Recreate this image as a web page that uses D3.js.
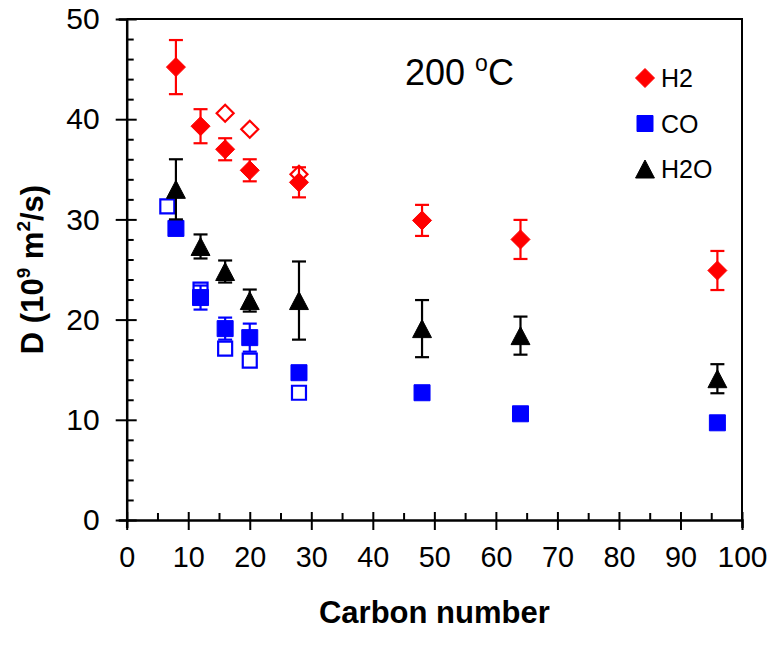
<!DOCTYPE html>
<html>
<head>
<meta charset="utf-8">
<script src="https://cdn.jsdelivr.net/npm/d3@7"></script>
<style>
  html, body { margin: 0; padding: 0; background: #fff; }
  svg { display: block; }
  text { font-family: "Liberation Sans", Arial, sans-serif; }
</style>
</head>
<body>
<svg id="chart" width="770" height="653"></svg>
<script>
// Diffusion coefficient D (10^-9 m^2/s) versus alkane carbon number at 200 °C

// H2, filled diamonds: carbon number, value, error
const h2Carbon = [8, 12, 16, 20, 28, 48, 64, 96];
const h2Value  = [45.2, 39.3, 37.0, 34.9, 33.7, 29.9, 28.0, 24.9];
const h2Err    = [2.7, 1.7, 1.1, 1.1, 1.5, 1.55, 1.95, 1.95];

// H2, open diamonds
const h2OpenCarbon = [16, 20, 28];
const h2OpenValue  = [40.6, 39.0, 34.5];

// CO, filled squares
const coCarbon = [8, 12, 16, 20, 28, 48, 64, 96];
const coValue  = [29.1, 22.2, 19.1, 18.2, 14.7, 12.7, 10.6, 9.7];
const coErr    = [0.4, 1.2, 1.1, 1.4, 0.5, 0.3, 0.3, 0.3];

// CO, open squares
const coOpenCarbon = [6.6, 12, 16, 20, 28];
const coOpenValue  = [31.3, 23.0, 17.1, 15.9, 12.7];

// H2O, filled triangles
const h2oCarbon = [8, 12, 16, 20, 28, 48, 64, 96];
const h2oValue  = [33.0, 27.3, 24.8, 21.9, 21.9, 19.1, 18.4, 14.1];
const h2oErr    = [3.0, 1.2, 1.1, 1.1, 3.9, 2.85, 1.9, 1.45];

// Axis ticks
const xTicks = [0, 10, 20, 30, 40, 50, 60, 70, 80, 90, 100];
const xMinor = [5, 15, 25, 35, 45, 55, 65, 75, 85, 95];
const yTicks = [0, 10, 20, 30, 40, 50];
const yMinor = [2, 4, 6, 8, 12, 14, 16, 18, 22, 24, 26, 28, 32, 34, 36, 38, 42, 44, 46, 48];

const legendItems = ["H2", "CO", "H2O"];

const svg = d3.select("#chart");
const plotLeft = 126.7, plotRight = 742, plotTop = 19, plotBottom = 520;

const x = d3.scaleLinear().domain([0, 100]).range([plotLeft, plotRight]);
const y = d3.scaleLinear().domain([0, 50]).range([plotBottom, plotTop]);

// Plot frame (top and right edges)
svg.append("path")
  .attr("d", `M${plotLeft},${plotTop}H${plotRight}V${plotBottom}`)
  .attr("fill", "none").attr("stroke", "#000").attr("stroke-width", 2);

// X axis
const gx = svg.append("g").attr("transform", `translate(0,${plotBottom})`)
  .call(d3.axisBottom(x).tickValues(xTicks).tickSize(8).tickPadding(18).tickFormat(d3.format("d")));
gx.select(".domain").attr("stroke-width", 2.5);
gx.selectAll(".tick line").attr("y1", -8).attr("y2", 10).attr("stroke-width", 2);
gx.selectAll(".tick text").attr("font-size", 30).attr("fill", "#000")
  .attr("font-family", "Liberation Sans, Arial, sans-serif")
  .attr("textLength", d => d === 100 ? 50 : d === 0 ? 16 : 32).attr("lengthAdjust", "spacingAndGlyphs");

svg.append("g").attr("transform", `translate(0,${plotBottom})`)
  .call(d3.axisBottom(x).tickValues(xMinor).tickSize(-7).tickFormat(""))
  .call(g => g.select(".domain").remove())
  .selectAll(".tick line").attr("stroke-width", 2);

// Y axis
const gy = svg.append("g").attr("transform", `translate(${plotLeft},0)`)
  .call(d3.axisLeft(y).tickValues(yTicks).tickSize(8).tickPadding(19).tickFormat(d3.format("d")));
gy.select(".domain").attr("stroke-width", 2.5);
gy.selectAll(".tick line").attr("x1", -11).attr("x2", 10).attr("stroke-width", 2);
gy.selectAll(".tick text").attr("font-size", 30).attr("font-family", "Liberation Sans, Arial, sans-serif").attr("fill", "#000");

svg.append("g").attr("transform", `translate(${plotLeft},0)`)
  .call(d3.axisLeft(y).tickValues(yMinor).tickSize(-7).tickFormat(""))
  .call(g => g.select(".domain").remove())
  .selectAll(".tick line").attr("stroke-width", 2);

// Axis titles
svg.append("text")
  .attr("x", (plotLeft + plotRight) / 2).attr("y", 623)
  .attr("text-anchor", "middle").attr("font-weight", "bold").attr("font-size", 31)
  .text("Carbon number");

const yt = svg.append("text")
  .attr("transform", `translate(43,${(plotTop + plotBottom) / 2}) rotate(-90)`)
  .attr("text-anchor", "middle").attr("font-weight", "bold").attr("font-size", 31);
yt.append("tspan").text("D (10");
yt.append("tspan").attr("font-size", 19).attr("dy", -13).text("9");
yt.append("tspan").attr("dy", 13).text(" m");
yt.append("tspan").attr("font-size", 19).attr("dy", -13).text("2");
yt.append("tspan").attr("dy", 13).text("/s)");

// Temperature annotation
const ann = svg.append("text").attr("x", 405).attr("y", 85)
  .attr("font-family", "Open Sans, Noto Sans, sans-serif").attr("font-size", 36);
ann.append("tspan").text("200 ");
ann.append("tspan").attr("font-size", 23).attr("dy", -14).text("o");
ann.append("tspan").attr("dy", 14).text("C");

// Marker shapes
const diamond = s => `M0,${-s}L${s},0L0,${s}L${-s},0Z`;
const square = s => `M${-s},${-s}H${s}V${s}H${-s}Z`;
const triangle = s => `M0,${-s}L${s * 1.05},${s}H${-s * 1.05}Z`;

function errorBars(carbon, value, err, color) {
  const g = svg.append("g").attr("stroke", color).attr("stroke-width", 2.2).attr("fill", "none");
  carbon.forEach((c, i) => {
    const cx = x(c), y0 = y(value[i] - err[i]), y1 = y(value[i] + err[i]);
    g.append("line").attr("x1", cx).attr("x2", cx).attr("y1", y0).attr("y2", y1);
    g.append("line").attr("x1", cx - 7).attr("x2", cx + 7).attr("y1", y0).attr("y2", y0);
    g.append("line").attr("x1", cx - 7).attr("x2", cx + 7).attr("y1", y1).attr("y2", y1);
  });
}

function markers(carbon, value, shape, color, filled) {
  svg.append("g").selectAll("path").data(carbon).join("path")
    .attr("transform", (c, i) => `translate(${x(c)},${y(value[i])})`)
    .attr("d", shape)
    .attr("fill", filled ? color : "none")
    .attr("stroke", color)
    .attr("stroke-width", filled ? 1 : 2.2);
}

// Open markers first, filled series on top
markers(h2OpenCarbon, h2OpenValue, diamond(8.5), "#ff0000", false);
markers(coOpenCarbon, coOpenValue, square(7), "#0000ff", false);

errorBars(h2Carbon, h2Value, h2Err, "#ff0000");
markers(h2Carbon, h2Value, diamond(9.5), "#ff0000", true);

errorBars(coCarbon, coValue, coErr, "#0000ff");
markers(coCarbon, coValue, square(8), "#0000ff", true);

errorBars(h2oCarbon, h2oValue, h2oErr, "#000000");
markers(h2oCarbon, h2oValue, triangle(9), "#000000", true);

// Legend
const legendShapes = [diamond(9.5), square(8), triangle(9)];
const legendColors = ["#ff0000", "#0000ff", "#000000"];
const lg = svg.append("g");
legendItems.forEach((name, i) => {
  const ly = 78 + i * 45.5;
  lg.append("path").attr("transform", `translate(645,${ly})`)
    .attr("d", legendShapes[i]).attr("fill", legendColors[i]).attr("stroke", legendColors[i]);
  lg.append("text").attr("x", 661).attr("y", ly + 9)
    .attr("font-size", 25).text(name);
});
</script>
</body>
</html>
